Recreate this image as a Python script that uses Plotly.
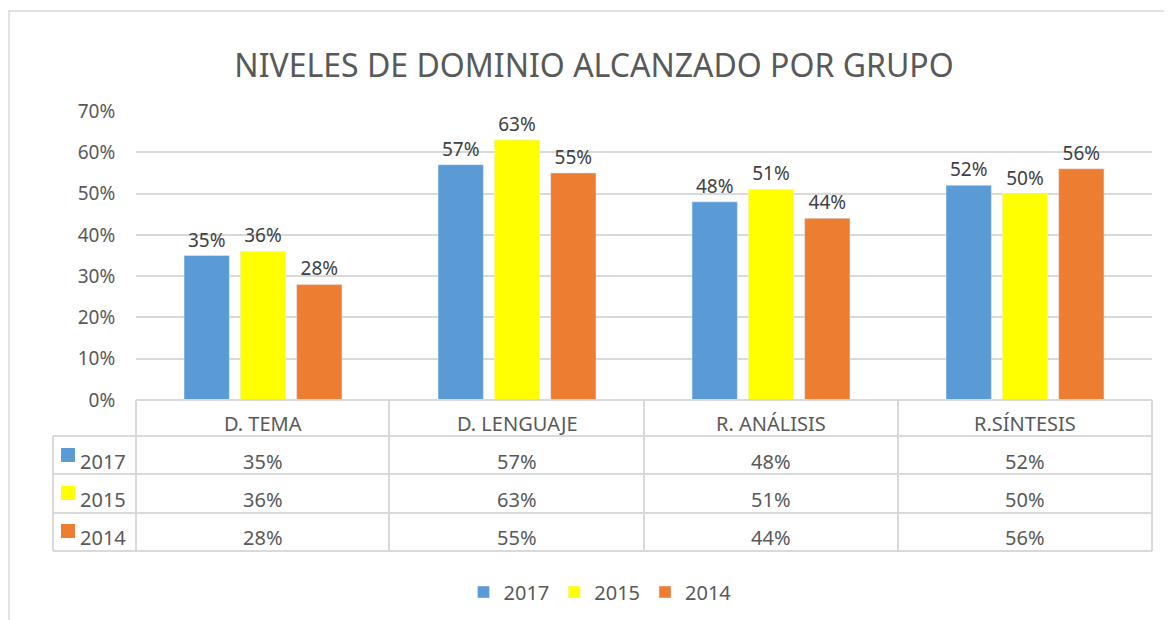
import plotly.graph_objects as go

categories = ["D. TEMA", "D. LENGUAJE", "R. ANÁLISIS", "R.SÍNTESIS"]
series_names = ["2017", "2015", "2014"]
values_2017 = [35, 57, 48, 52]
values_2015 = [36, 63, 51, 50]
values_2014 = [28, 55, 44, 56]
series_values = [values_2017, values_2015, values_2014]
colors = ["#5B9BD5", "#FFFF00", "#ED7D31"]
y_ticks = [0, 10, 20, 30, 40, 50, 60, 70]
y_tick_labels = [f"{t}%" for t in y_ticks]

W, H = 1172, 620
OFF = 8  # page body margin offset
# target screen pixel positions
SL, SR, ST, SB = 136, 1152, 111, 400
L = SL - OFF
T = ST - OFF
R = W - (SR - OFF)
B = H - (SB - OFF)
PW = W - L - R
PH = H - T - B
FONT = "Noto Sans"
GREY = "#595959"
LINE = "#D9D9D9"


def px(p):
    return (p - SL) / PW


def py(p):
    return (SB - p) / PH


fig = go.Figure()
for name, vals, col in zip(series_names, series_values, colors):
    fig.add_trace(go.Bar(
        x=categories, y=vals, name=name, marker_color=col,
        text=[f"{v}%" for v in vals], textposition="outside",
        textfont=dict(size=19, color="#404040", family=FONT),
        cliponaxis=False, hoverinfo="skip",
    ))

shapes = []
# outer chart border
shapes.append(dict(type="rect", xref="paper", yref="paper",
                   x0=px(9), x1=px(1185), y0=py(11), y1=py(640),
                   line=dict(color=LINE, width=1.5), layer="below"))
# table lines
row_y = [400, 436, 474, 513, 551]
col_x = [136, 389, 644, 898, 1152]
legend_left = 53
for i, yy in enumerate(row_y):
    x0 = col_x[0] if i == 0 else legend_left
    shapes.append(dict(type="line", xref="paper", yref="paper",
                       x0=px(x0), x1=px(col_x[-1]), y0=py(yy), y1=py(yy),
                       line=dict(color=LINE, width=2)))
for xx in col_x:
    shapes.append(dict(type="line", xref="paper", yref="paper",
                       x0=px(xx), x1=px(xx), y0=py(row_y[0]), y1=py(row_y[-1]),
                       line=dict(color=LINE, width=2)))
shapes.append(dict(type="line", xref="paper", yref="paper",
                   x0=px(legend_left), x1=px(legend_left), y0=py(row_y[1]), y1=py(row_y[-1]),
                   line=dict(color=LINE, width=2)))

annotations = []
text_font = dict(size=20, color=GREY, family=FONT)
# header
for c in categories:
    annotations.append(dict(x=c, xref="x", y=py(423), yref="paper", text=c,
                            showarrow=False, font=text_font, xanchor="center", yanchor="middle"))
row_text_y = [461, 499, 537]
for r, (name, vals, col) in enumerate(zip(series_names, series_values, colors)):
    ty = row_text_y[r]
    for c, v in zip(categories, vals):
        annotations.append(dict(x=c, xref="x", y=py(ty), yref="paper", text=f"{v}%",
                                showarrow=False, font=text_font, xanchor="center", yanchor="middle"))
    annotations.append(dict(x=px(78), xref="paper", y=py(ty), yref="paper", text=name,
                            showarrow=False, font=text_font, xanchor="left", yanchor="middle"))
    shapes.append(dict(type="rect", xref="paper", yref="paper",
                       x0=px(61), x1=px(75), y0=py(ty - 13), y1=py(ty + 1),
                       fillcolor=col, line=dict(width=0)))

fig.update_layout(
    width=W, height=H,
    margin=dict(l=L, r=R, t=T, b=B, autoexpand=False),
    paper_bgcolor="white", plot_bgcolor="white",
    title=dict(text="NIVELES DE DOMINIO ALCANZADO POR GRUPO",
               x=(594 - OFF) / W, xanchor="center", y=1 - (66 - OFF) / H, yanchor="middle",
               font=dict(size=32, color=GREY, family=FONT)),
    barmode="group", bargap=0.335, bargroupgap=0.195,
    xaxis=dict(showticklabels=False, showgrid=False, zeroline=False, showline=False,
               range=[-0.5, 3.5], automargin=False),
    yaxis=dict(range=[0, 70], tickmode="array", tickvals=y_ticks, ticktext=y_tick_labels,
               gridcolor=LINE, gridwidth=1.5, zeroline=False, showline=False,
               tickfont=dict(size=19, color=GREY, family=FONT), automargin=False,
               ticks="outside", ticklen=16, tickcolor="rgba(0,0,0,0)"),
    legend=dict(orientation="h", x=px(600), xanchor="center", y=py(592), yanchor="middle",
                font=dict(size=20, color=GREY, family=FONT), itemwidth=30,
                traceorder="normal"),
    shapes=shapes, annotations=annotations,
    font=dict(family=FONT, color=GREY),
)

fig.write_html("out.html")
